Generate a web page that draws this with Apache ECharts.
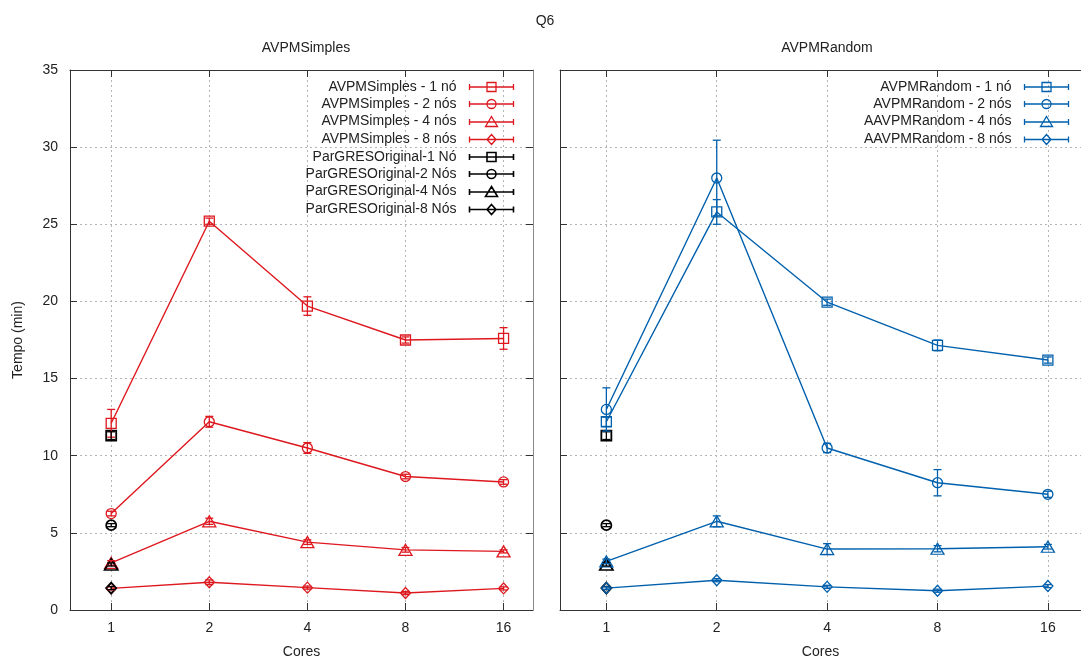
<!DOCTYPE html>
<html>
<head>
<meta charset="utf-8">
<title>Q6</title>
<script src="https://cdn.jsdelivr.net/npm/echarts@6/dist/echarts.min.js"></script>
<style>
  html, body { margin: 0; padding: 0; background: #fff; }
  #chart { width: 1081px; height: 664px; }
</style>
</head>
<body>
<div id="chart"></div>
<script>
// categories (x positions 1..5 are the evenly spaced slots)
const cores = ['1', '2', '4', '8', '16']
const xPos = [1, 2, 3, 4, 5]

// AVPMSimples (tempo em minutos) + error
const simples1 = [12.1, 25.2, 19.7, 17.5, 17.6]
const simples1Err = [0.9, 0.2, 0.6, 0.2, 0.7]
const simples2 = [6.25, 12.2, 10.5, 8.65, 8.3]
const simples2Err = [0.15, 0.35, 0.35, 0.15, 0.15]
const simples4 = [3.05, 5.75, 4.4, 3.9, 3.8]
const simples4Err = [0.15, 0.2, 0.15, 0.15, 0.1]
const simples8 = [1.4, 1.8, 1.45, 1.1, 1.4]
const simples8Err = [0.1, 0.15, 0.1, 0.1, 0.1]

// AVPMRandom
const random1 = [12.2, 25.8, 19.95, 17.15, 16.2]
const random1Err = [0.3, 0.8, 0.2, 0.35, 0.2]
const random2 = [13.0, 28.0, 10.5, 8.25, 7.5]
const random2Err = [1.4, 2.45, 0.3, 0.85, 0.2]
const random4 = [3.15, 5.75, 3.95, 3.97, 4.1]
const random4Err = [0.15, 0.35, 0.35, 0.2, 0.15]
const random8 = [1.42, 1.93, 1.5, 1.25, 1.55]
const random8Err = [0.08, 0.1, 0.1, 0.1, 0.1]

// ParGRES original, only measured with 1 core (1, 2, 4, 8 nós)
const pargres = [11.3, 5.5, 2.95, 1.42]
const pargresErr = [0.25, 0.1, 0.1, 0.1]

const RED = '#dd181f'
const BLUE = '#0060ad'
const BLACK = '#000000'
const FONT = 'Liberation Sans, Arial, sans-serif'

const whisk = 'M0 3L0 9M0 6L44 6M44 3L44 9'
const marks = {
  square: { symbol: 'rect', size: 10, icon: whisk + 'M17.5 1.5L26.5 1.5L26.5 10.5L17.5 10.5Z' },
  circle: { symbol: 'circle', size: 10, icon: whisk + 'M26.5 6A4.5 4.5 0 1 1 17.5 6A4.5 4.5 0 1 1 26.5 6Z' },
  triangle: { symbol: 'triangle', size: [13, 11], icon: whisk + 'M22 0.5L28 10.5L16 10.5Z' },
  diamond: { symbol: 'diamond', size: [10, 11], icon: whisk + 'M22 1L26.5 6L22 11L17.5 6Z' }
}

const leftSets = [
  { name: 'AVPMSimples - 1 nó', data: simples1, err: simples1Err, mark: 'square', color: RED },
  { name: 'AVPMSimples - 2 nós', data: simples2, err: simples2Err, mark: 'circle', color: RED },
  { name: 'AVPMSimples - 4 nós', data: simples4, err: simples4Err, mark: 'triangle', color: RED },
  { name: 'AVPMSimples - 8 nós', data: simples8, err: simples8Err, mark: 'diamond', color: RED },
  { name: 'ParGRESOriginal-1 Nó', data: [pargres[0]], err: [pargresErr[0]], mark: 'square', color: BLACK, lw: 1.8 },
  { name: 'ParGRESOriginal-2 Nós', data: [pargres[1]], err: [pargresErr[1]], mark: 'circle', color: BLACK, lw: 1.8 },
  { name: 'ParGRESOriginal-4 Nós', data: [pargres[2]], err: [pargresErr[2]], mark: 'triangle', color: BLACK, lw: 1.8 },
  { name: 'ParGRESOriginal-8 Nós', data: [pargres[3]], err: [pargresErr[3]], mark: 'diamond', color: BLACK, lw: 1.8 }
]

const rightSets = [
  { name: 'ParGRES 1', data: [pargres[0]], err: [pargresErr[0]], mark: 'square', color: BLACK, lw: 1.8 },
  { name: 'ParGRES 2', data: [pargres[1]], err: [pargresErr[1]], mark: 'circle', color: BLACK, lw: 1.8 },
  { name: 'ParGRES 4', data: [pargres[2]], err: [pargresErr[2]], mark: 'triangle', color: BLACK, lw: 1.8 },
  { name: 'ParGRES 8', data: [pargres[3]], err: [pargresErr[3]], mark: 'diamond', color: BLACK, lw: 1.8 },
  { name: 'AVPMRandom - 1 nó', data: random1, err: random1Err, mark: 'square', color: BLUE },
  { name: 'AVPMRandom - 2 nós', data: random2, err: random2Err, mark: 'circle', color: BLUE },
  { name: 'AAVPMRandom - 4 nós', data: random4, err: random4Err, mark: 'triangle', color: BLUE },
  { name: 'AAVPMRandom - 8 nós', data: random8, err: random8Err, mark: 'diamond', color: BLUE }
]

const buildSeries = (set, gi) => {
  const m = marks[set.mark]
  const lw = set.lw || 1.3
  const xi = gi === 0 ? 0 : 2
  const yi = gi === 0 ? 0 : 2
  const line = {
    type: 'line',
    name: set.name,
    xAxisIndex: xi,
    yAxisIndex: yi,
    data: set.data.map((v, i) => [xPos[i], v]),
    symbol: m.symbol,
    symbolSize: m.size,
    itemStyle: { color: 'transparent', borderColor: set.color, borderWidth: lw },
    lineStyle: { color: set.color, width: 1.4 },
    emphasis: { disabled: true },
    z: 3
  }
  const bars = {
    type: 'custom',
    xAxisIndex: xi,
    yAxisIndex: yi,
    data: set.data.map((v, i) => [xPos[i], v - set.err[i], v + set.err[i]]),
    encode: { x: 0, y: [1, 2] },
    silent: true,
    z: 4,
    renderItem: (params, api) => {
      const x = api.value(0)
      const lo = api.coord([x, api.value(1)])
      const hi = api.coord([x, api.value(2)])
      const st = { stroke: set.color, lineWidth: 1.3 }
      return {
        type: 'group',
        children: [
          { type: 'line', shape: { x1: lo[0], y1: lo[1], x2: hi[0], y2: hi[1] }, style: st },
          { type: 'line', shape: { x1: lo[0] - 4, y1: lo[1], x2: lo[0] + 4, y2: lo[1] }, style: st },
          { type: 'line', shape: { x1: hi[0] - 4, y1: hi[1], x2: hi[0] + 4, y2: hi[1] }, style: st }
        ]
      }
    }
  }
  return [line, bars]
}

const legendItems = (sets) => sets.map(s => ({
  name: s.name,
  icon: 'path://' + marks[s.mark].icon,
  itemStyle: { color: 'none', borderColor: s.color, borderWidth: s.lw ? 1.6 : 1.3 }
}))

const xAxisCfg = (gi, top) => ({
  type: 'value',
  gridIndex: gi,
  position: top ? 'top' : 'bottom',
  min: 0.58,
  max: 5.3,
  name: top ? '' : 'Cores',
  nameLocation: 'middle',
  nameGap: 35,
  nameTextStyle: { fontSize: 14, color: '#222', fontFamily: FONT },
  axisLine: { show: true, onZero: false, lineStyle: { color: '#333', width: 1 } },
  axisTick: { show: true, inside: true, length: 7, customValues: xPos, lineStyle: { color: '#333' } },
  axisLabel: {
    show: !top,
    customValues: xPos,
    formatter: (v) => cores[Math.round(v) - 1],
    fontSize: 14, color: '#222', fontFamily: FONT, margin: 11
  },
  splitLine: { show: !top, lineStyle: { type: [2, 3], color: '#b5b5b5', width: 1 } }
})

const yAxisCfg = (gi, pos, labels, grid) => ({
  type: 'value',
  gridIndex: gi,
  position: pos,
  min: 0,
  max: 35,
  interval: 5,
  name: labels ? 'Tempo (min)' : '',
  nameLocation: 'middle',
  nameGap: 45,
  nameTextStyle: { fontSize: 14, color: '#222', fontFamily: FONT },
  axisLine: { show: true, lineStyle: { color: pos === 'right' ? '#888' : '#333', width: 1 } },
  axisTick: { show: true, inside: true, length: 7, lineStyle: { color: '#333' } },
  axisLabel: { show: labels, fontSize: 14, color: '#222', fontFamily: FONT, margin: 12 },
  splitLine: { show: grid, lineStyle: { type: [2, 3], color: '#b5b5b5', width: 1 } }
})

const chart = echarts.init(document.getElementById('chart'))

const series = []
leftSets.forEach(s => series.push(...buildSeries(s, 0)))
rightSets.forEach(s => series.push(...buildSeries(s, 1)))

const titleStyle = { fontSize: 14, fontWeight: 'normal', color: '#222', fontFamily: FONT }

chart.setOption({
  animation: false,
  backgroundColor: '#fff',
  title: [
    { text: 'Q6', left: 540, top: 9, textAlign: 'center', textStyle: titleStyle },
    { text: 'AVPMSimples', left: 301, top: 36, textAlign: 'center', textStyle: titleStyle },
    { text: 'AVPMRandom', left: 822, top: 36, textAlign: 'center', textStyle: titleStyle }
  ],
  grid: [
    { left: 70, top: 70, width: 463, height: 544 },
    { left: 560, top: 70, width: 524, height: 544 }
  ],
  xAxis: [xAxisCfg(0, false), xAxisCfg(0, true), xAxisCfg(1, false), xAxisCfg(1, true)],
  yAxis: [yAxisCfg(0, 'left', true, true), yAxisCfg(0, 'right', false, false), yAxisCfg(1, 'left', false, true)],
  legend: [
    {
      orient: 'vertical', align: 'right', right: 565, top: 80, padding: 0,
      itemWidth: 44, itemHeight: 12, itemGap: 3, selectedMode: false,
      textStyle: { fontSize: 14, color: '#222', fontFamily: FONT, padding: [0, 8, 0, 0] },
      data: legendItems(leftSets)
    },
    {
      orient: 'vertical', align: 'right', right: 10, top: 80, padding: 0,
      itemWidth: 44, itemHeight: 12, itemGap: 3, selectedMode: false,
      textStyle: { fontSize: 14, color: '#222', fontFamily: FONT, padding: [0, 8, 0, 0] },
      data: legendItems(rightSets.slice(4))
    }
  ],
  series
})
</script>
</body>
</html>
